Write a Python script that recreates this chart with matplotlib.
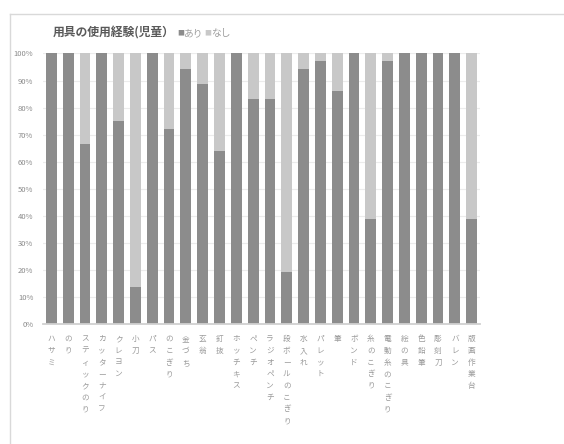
import matplotlib
matplotlib.use("Agg")
import matplotlib.pyplot as plt
import numpy as np

plt.rcParams['font.family'] = ['Noto Sans CJK JP', 'DejaVu Sans']

# 用具ごとの使用経験（児童）, 割合 %
tools = ["ハサミ", "のり", "スティックのり", "カッターナイフ", "クレヨン", "小刀",
         "パス", "のこぎり", "金づち", "玄翁", "釘抜", "ホッチキス", "ペンチ",
         "ラジオペンチ", "段ボールのこぎり", "水入れ", "パレット", "筆", "ボンド",
         "糸のこぎり", "電動糸のこぎり", "絵の具", "色鉛筆", "彫刻刀", "バレン",
         "版画作業台"]
ari = [100, 100, 66.7, 100, 75.0, 13.9, 100, 72.2, 94.4, 88.9, 63.9, 100, 83.3,
       83.3, 19.4, 94.4, 97.2, 86.1, 100, 38.9, 97.2, 100, 100, 100, 100, 38.9]
nashi = [100 - a for a in ari]
yticks = [0, 10, 20, 30, 40, 50, 60, 70, 80, 90, 100]

dark = "#8c8c8c"
light = "#c8c8c8"

fig = plt.figure(figsize=(5.64, 4.44), dpi=100)
ax = fig.add_axes([0.0762, 0.2696, 0.775, 0.610])

x = np.arange(len(tools))
ax.bar(x, ari, width=0.64, color=dark, zorder=3)
ax.bar(x, nashi, width=0.64, bottom=ari, color=light, zorder=3)

ax.set_xlim(-0.5, len(tools) - 0.5)
ax.set_ylim(0, 100)
ax.set_yticks(yticks)
ax.set_yticklabels([f"{t}%" for t in yticks], fontsize=5.5, color="#8a8a8a")
ax.tick_params(axis='y', length=0, pad=7)
ax.tick_params(axis='x', length=0)
ax.set_xticks([])
ax.grid(axis='y', color="#ececec", linewidth=0.8, zorder=0)
for s in ["top", "right", "left"]:
    ax.spines[s].set_visible(False)
ax.spines["bottom"].set_color("#d0d0d0")
ax.spines["bottom"].set_linewidth(1.3)
ax.spines["bottom"].set_zorder(4)

# 縦書きラベル
for i, name in enumerate(tools):
    ax.text(i, -4, "\n".join(name), ha='center', va='top', fontsize=5.5,
            color="#9a9a9a", linespacing=1.62,
            transform=ax.transData, clip_on=False)

# タイトルと凡例
fig.text(0.094, 0.925, "用具の使用経験(児童）", fontsize=8.5, fontweight='bold',
         color="#595959", va='center')
fig.text(0.314, 0.925, "■", fontsize=5, color=dark, va='center')
fig.text(0.326, 0.925, "あり", fontsize=7, color="#a0a0a0", va='center')
fig.text(0.363, 0.925, "■", fontsize=5, color=light, va='center')
fig.text(0.375, 0.925, "なし", fontsize=7, color="#a0a0a0", va='center')

# 枠線
fig.add_artist(plt.Line2D([10 / 564, 1], [1 - 14 / 444, 1 - 14 / 444],
                          color="#d9d9d9", linewidth=1.0))
fig.add_artist(plt.Line2D([10 / 564, 10 / 564], [0, 1 - 14 / 444],
                          color="#d9d9d9", linewidth=1.0))

fig.savefig("out.png", dpi=100, facecolor="white")
